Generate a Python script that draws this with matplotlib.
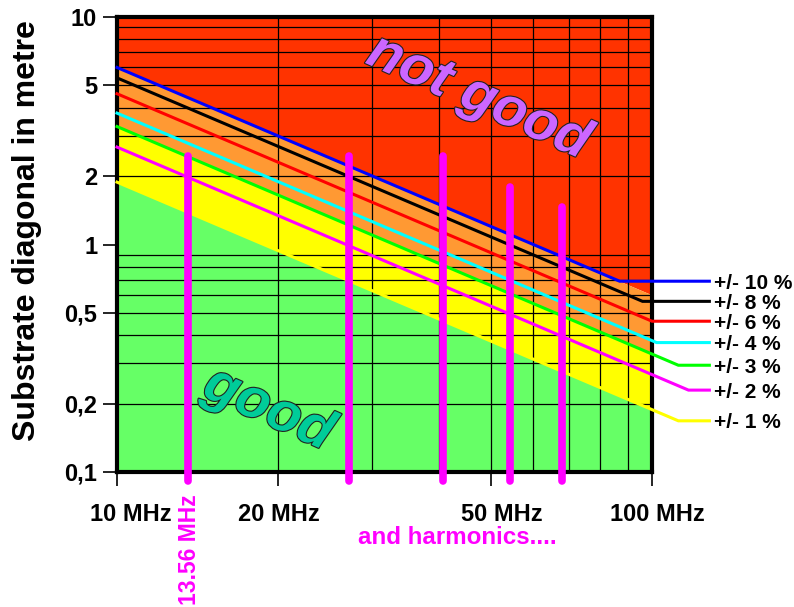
import numpy as np
import matplotlib
matplotlib.use("Agg")
import matplotlib.pyplot as plt
from matplotlib import font_manager, patheffects
from matplotlib.transforms import ScaledTranslation

# --- values -----------------------------------------------------------
# tolerance curves: diagonal = coeff / f  (metre, f in MHz)
tol_labels = ["+/- 10 %", "+/- 8 %", "+/- 6 %", "+/- 4 %", "+/- 3 %", "+/- 2 %", "+/- 1 %"]
tol_coeff = [60.0, 54.0, 46.0, 37.8, 33.0, 26.8, 18.8]
tol_knee = [87.0, 96.0, 100.0, 102.0, 112.0, 117.0, 112.0]   # where each curve turns flat
tol_colors = ["#0000FF", "#000000", "#FF0000", "#00FFFF", "#00FF00", "#FF00FF", "#FFFF00"]

# coloured zones, top to bottom (bounded by the 10 %, 3 % and 1 % curves)
zone_edges = [60.0, 33.0, 18.8]
zone_colors = ["#FF3300", "#FF9933", "#FFFF00", "#66FF66"]

# ISM frequency and its harmonics
harm_freq = [13.56, 27.12, 40.68, 54.24, 67.8]
harm_top = [2.45, 2.45, 2.45, 1.79, 1.46]
harm_bottom = 0.0913

x_ticks = [10, 20, 50, 100]
x_ticklabels = ["10 MHz", "20 MHz", "50 MHz", "100 MHz"]
x_label_shift = [10, 0.7, 8, 3.6]     # points, nudge of each frequency label
y_ticks = [0.1, 0.2, 0.5, 1, 2, 5, 10]
y_ticklabels = ["0,1", "0,2", "0,5", "1", "2", "5", "10"]

# --- fonts ------------------------------------------------------------
installed = {f.name for f in font_manager.fontManager.ttflist}
base_font = "Liberation Sans" if "Liberation Sans" in installed else "DejaVu Sans"
plt.rcParams["font.family"] = [base_font, "DejaVu Sans"]

fig = plt.figure(figsize=(7.94, 6.07), dpi=100)
ax = fig.add_axes([117 / 794, 135 / 607, 535 / 794, 455 / 607])
ax.set_xscale("log")
ax.set_yscale("log")
ax.set_xlim(10, 100)
ax.set_ylim(0.1, 10)

# zones
f = np.geomspace(10, 100, 50)
upper = np.full_like(f, 10.0)
for i, color in enumerate(zone_colors):
    lower = zone_edges[i] / f if i < len(zone_edges) else np.full_like(f, 0.1)
    ax.fill_between(f, lower, upper, color=color, lw=0, zorder=0)
    upper = lower

# grid at every 2..9 step
grid_x = [m * 10 for m in range(2, 10)]
grid_y = [m * d for d in (0.1, 1) for m in range(2, 10)]
ax.hlines(grid_y, 10, 100, colors="black", lw=0.9, zorder=1)
ax.vlines(grid_x, 0.1, 10, colors="black", lw=0.9, zorder=1)

# tolerance curves, continued flat out to their labels
end_freq = 128.0
label_freq = 130.5
for coeff, knee, color, label in zip(tol_coeff, tol_knee, tol_colors, tol_labels):
    ax.plot([10, knee, end_freq], [coeff / 10, coeff / knee, coeff / knee],
            color=color, lw=2.2, clip_on=False, zorder=3, solid_joinstyle="miter")
    ax.text(label_freq, coeff / knee, label, ha="left", va="center_baseline",
            fontsize=15, fontweight="bold", clip_on=False)

# 13.56 MHz and harmonics
ax.vlines(harm_freq, harm_bottom, harm_top, colors="#FF00FF", lw=5.5,
          capstyle="round", clip_on=False, zorder=4)

# axes styling
for s in ax.spines.values():
    s.set_linewidth(3)
    s.set_zorder(2.5)
ax.xaxis.set_minor_locator(matplotlib.ticker.NullLocator())
ax.yaxis.set_minor_locator(matplotlib.ticker.NullLocator())
ax.set_xticks(x_ticks)
ax.set_xticklabels(x_ticklabels, fontsize=17, fontweight="bold")
ax.set_yticks(y_ticks)
ax.set_yticklabels(y_ticklabels, fontsize=17, fontweight="bold")
ax.tick_params(axis="x", length=10, width=1.2, pad=12)
ax.tick_params(axis="y", length=10, width=1.2, pad=4.3)
for lab, dx in zip(ax.get_xticklabels(), x_label_shift):
    lab.set_transform(lab.get_transform() + ScaledTranslation(dx / 72, 0, fig.dpi_scale_trans))

ax.set_ylabel("Substrate diagonal in metre", fontsize=23, fontweight="bold",
              ha="center", va="center")
ax.yaxis.set_label_coords(-0.1673, 0.5297)

fig.text(189.8 / 794, 1 - 550 / 607, "13.56 MHz", rotation=90, color="#FF00FF",
         fontsize=16.5, fontweight="bold", ha="center", va="center")
fig.text(457.5 / 794, 1 - 537.8 / 607, "and harmonics....", color="#FF00FF",
         fontsize=17.4, fontweight="bold", ha="center", va="center")

outline = [patheffects.withStroke(linewidth=1.6, foreground="#222222")]
ax.text(0.675, 0.822, "not good", transform=ax.transAxes, rotation=-24,
        rotation_mode="anchor", ha="center", va="center", fontsize=40,
        fontweight="bold", fontstyle="italic",
        color="#CC66FF", path_effects=outline, zorder=5)
ax.text(0.2822, 0.1363, "good", transform=ax.transAxes, rotation=-24,
        rotation_mode="anchor", ha="center", va="center", fontsize=40,
        fontweight="bold", fontstyle="italic",
        color="#00CC99", path_effects=outline, zorder=5)

fig.savefig("out.png", dpi=100)
